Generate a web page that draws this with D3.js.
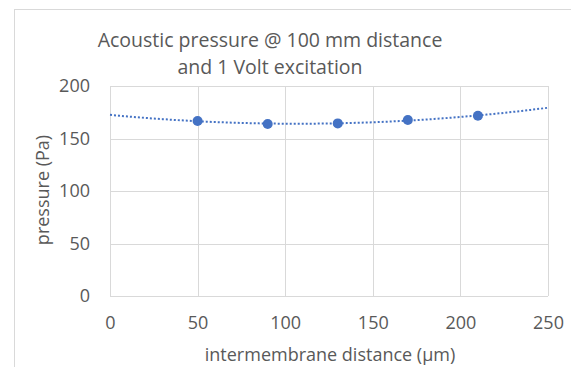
<!DOCTYPE html>
<html>
<head>
<meta charset="utf-8">
<script src="https://cdn.jsdelivr.net/npm/d3@7"></script>
<style>
  body { margin: 0; background: #fff; }
  text { font-family: "Open Sans", sans-serif; fill: #595959; }
</style>
</head>
<body>
<div id="chart"></div>
<script>
// ---------- DATA ----------
const distances = [50, 90, 130, 170, 210];          // µm
const pressures = [166.7, 163.8, 164.4, 167.6, 171.7]; // Pa
const xTicks = [0, 50, 100, 150, 200, 250];
const yTicks = [0, 50, 100, 150, 200];
const titleLines = ['Acoustic pressure @ 100 mm distance', 'and 1 Volt excitation'];

const width = 571, height = 367;
const margin = { top: 86, right: 23, bottom: 71, left: 110 };
const innerW = width - margin.left - margin.right;
const innerH = height - margin.top - margin.bottom;

const svg = d3.select('#chart').append('svg')
  .attr('width', width)
  .attr('height', height);

// chart area border (runs off right/bottom)
svg.append('rect')
  .attr('x', 14.5).attr('y', 9.5)
  .attr('width', 600).attr('height', 400)
  .attr('fill', 'none')
  .attr('stroke', '#d9d9d9');

const x = d3.scaleLinear().domain([0, 250]).range([0, innerW]);
const y = d3.scaleLinear().domain([0, 200]).range([innerH, 0]);

const g = svg.append('g')
  .attr('transform', `translate(${margin.left}, ${margin.top})`);

// grid
g.append('g').selectAll('line').data(yTicks).enter().append('line')
  .attr('x1', 0).attr('x2', innerW)
  .attr('y1', d => Math.round(y(d)) + 0.5).attr('y2', d => Math.round(y(d)) + 0.5)
  .attr('stroke', '#d9d9d9').attr('stroke-width', 1);
g.append('g').selectAll('line').data(xTicks).enter().append('line')
  .attr('y1', 0).attr('y2', innerH)
  .attr('x1', d => Math.round(x(d)) + 0.5).attr('x2', d => Math.round(x(d)) + 0.5)
  .attr('stroke', '#d9d9d9').attr('stroke-width', 1);

// axes (labels only)
const yAxis = g.append('g')
  .call(d3.axisLeft(y).tickValues(yTicks).tickSize(0).tickPadding(20));
const xAxis = g.append('g')
  .attr('transform', `translate(0, ${innerH})`)
  .call(d3.axisBottom(x).tickValues(xTicks).tickSize(0).tickPadding(20));
[yAxis, xAxis].forEach(a => {
  a.select('.domain').remove();
  a.selectAll('text').attr('font-family', '"Open Sans", sans-serif')
    .attr('font-size', 18).attr('fill', '#595959');
});

// trendline: 2nd-order polynomial least squares fit, like the spreadsheet
function polyFit(xs, ys) {
  const n = xs.length;
  let s = [0, 0, 0, 0, 0], t = [0, 0, 0];
  for (let i = 0; i < n; i++) {
    for (let k = 0; k < 5; k++) s[k] += Math.pow(xs[i], k);
    for (let k = 0; k < 3; k++) t[k] += ys[i] * Math.pow(xs[i], k);
  }
  const M = [[s[0], s[1], s[2], t[0]], [s[1], s[2], s[3], t[1]], [s[2], s[3], s[4], t[2]]];
  for (let c = 0; c < 3; c++) {
    for (let r = c + 1; r < 3; r++) {
      const f = M[r][c] / M[c][c];
      for (let k = c; k < 4; k++) M[r][k] -= f * M[c][k];
    }
  }
  const co = [0, 0, 0];
  for (let r = 2; r >= 0; r--) {
    let v = M[r][3];
    for (let k = r + 1; k < 3; k++) v -= M[r][k] * co[k];
    co[r] = v / M[r][r];
  }
  return xv => co[0] + co[1] * xv + co[2] * xv * xv;
}
const fit = polyFit(distances, pressures);
const trendX = d3.range(0, 250.1, 5);

const line = d3.line()
  .x(d => x(d))
  .y(d => y(fit(d)));

g.append('path')
  .datum(trendX)
  .attr('d', line)
  .attr('fill', 'none')
  .attr('stroke', '#4472c4')
  .attr('stroke-width', 2)
  .attr('stroke-dasharray', '2 2');

// points
g.selectAll('.pt').data(distances).enter().append('circle')
  .attr('class', 'pt')
  .attr('cx', d => x(d))
  .attr('cy', (d, i) => y(pressures[i]))
  .attr('r', 5)
  .attr('fill', '#4472c4');

// title
svg.append('g').selectAll('text').data(titleLines).enter().append('text')
  .attr('x', 270)
  .attr('y', (d, i) => 47 + i * 27)
  .attr('text-anchor', 'middle')
  .attr('font-size', 19.5)
  .text(d => d);

// axis titles
svg.append('text')
  .attr('x', 330)
  .attr('y', 361)
  .attr('text-anchor', 'middle')
  .attr('font-size', 18)
  .text('intermembrane distance (µm)');

svg.append('text')
  .attr('transform', `translate(49, 190) rotate(-90)`)
  .attr('text-anchor', 'middle')
  .attr('font-size', 18)
  .text('pressure (Pa)');
</script>
</body>
</html>
